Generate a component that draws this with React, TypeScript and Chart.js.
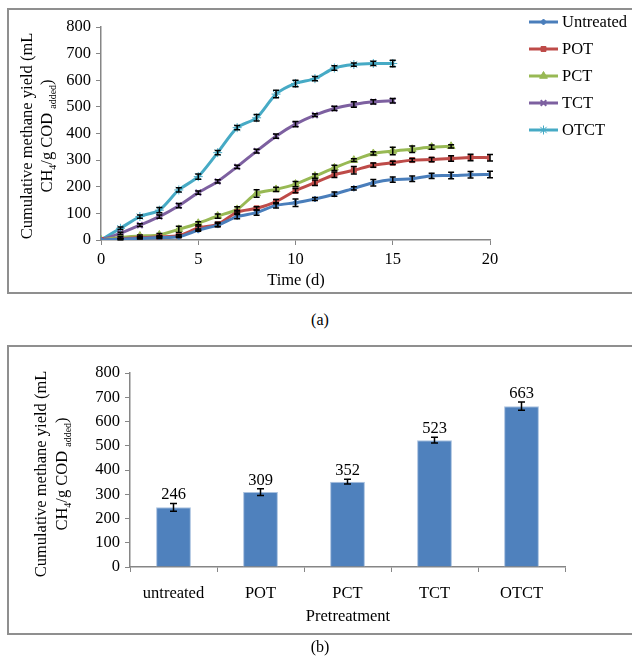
import React, { useEffect, useRef } from "react";
import { Chart, registerables } from "chart.js";
import { drawPoint } from "chart.js/helpers";

Chart.register(...registerables);

const FONT = "'Liberation Serif', 'Times New Roman', serif";
const FS = 16.5;

// ---------- Panel (a): cumulative methane yield over time ----------
const days = [0, 1, 2, 3, 4, 5, 6, 7, 8, 9, 10, 11, 12, 13, 14, 15, 16, 17, 18, 19, 20];

const untreatedValues = [0, 3, 6, 9, 12, 37, 56, 88, 103, 130, 140, 154, 172, 194, 215, 227, 230, 241, 242, 245, 246];
const untreatedErrors = [0, 2, 2, 3, 3, 4, 6, 8, 10, 10, 14, 6, 8, 6, 12, 10, 10, 10, 12, 12, 12];

const potValues = [0, 4, 9, 12, 16, 45, 59, 105, 119, 144, 185, 215, 245, 262, 281, 290, 300, 302, 306, 310, 309];
const potErrors = [0, 2, 3, 4, 4, 8, 8, 6, 6, 8, 8, 10, 10, 14, 8, 6, 6, 8, 10, 12, 12];

const pctValues = [0, 10, 15, 19, 40, 63, 90, 115, 175, 190, 210, 240, 271, 300, 325, 334, 341, 349, 352];
const pctErrors = [0, 3, 4, 5, 12, 6, 8, 10, 14, 8, 10, 8, 10, 5, 6, 14, 12, 8, 6];

const tctValues = [0, 25, 56, 88, 129, 178, 220, 275, 334, 390, 435, 469, 494, 509, 519, 523];
const tctErrors = [0, 4, 5, 6, 8, 6, 6, 6, 7, 8, 10, 5, 8, 10, 8, 8];

const otctValues = [0, 44, 88, 112, 188, 238, 328, 422, 459, 548, 588, 606, 646, 659, 663, 663];
const otctErrors = [0, 5, 6, 10, 8, 10, 8, 8, 12, 14, 12, 8, 8, 6, 8, 12];

const seriesNames = ["Untreated", "POT", "PCT", "TCT", "OTCT"];
const seriesColors = ["#4A7EBB", "#BE4B48", "#98B954", "#7D60A0", "#46AAC5"];
const seriesMarkers = ["rectRot", "rect", "triangle", "crossRot", "star"];
const seriesMarkerRadius = [3, 3.5, 4.5, 4, 4.5];

// ---------- Panel (b): final cumulative yield by pretreatment ----------
const barCategories = ["untreated", "POT", "PCT", "TCT", "OTCT"];
const barValues = [246, 309, 352, 523, 663];
const barErrors = [16, 14, 10, 12, 17];

const AXIS_COLOR = "#868686";

type Seg = { t: string; sub?: boolean };
const yTitleLine1 = "Cumulative methane yield (mL";
const yTitleLine2: Seg[] = [
  { t: "CH" },
  { t: "4", sub: true },
  { t: "/g COD " },
  { t: "added", sub: true },
  { t: ")" },
];

function drawYTitle(ctx: CanvasRenderingContext2D, x1: number, x2: number, cy: number) {
  ctx.save();
  ctx.fillStyle = "#000";
  ctx.textBaseline = "middle";
  // line 1
  ctx.save();
  ctx.translate(x1, cy);
  ctx.rotate(-Math.PI / 2);
  ctx.font = `${FS}px ${FONT}`;
  ctx.textAlign = "center";
  ctx.fillText(yTitleLine1, 0, 0);
  ctx.restore();
  // line 2 with subscripts
  ctx.save();
  ctx.translate(x2, cy);
  ctx.rotate(-Math.PI / 2);
  ctx.textAlign = "left";
  const mainF = `${FS}px ${FONT}`;
  const subF = `10px ${FONT}`;
  let total = 0;
  for (const s of yTitleLine2) {
    ctx.font = s.sub ? subF : mainF;
    total += ctx.measureText(s.t).width;
  }
  let x = -total / 2;
  for (const s of yTitleLine2) {
    ctx.font = s.sub ? subF : mainF;
    ctx.fillText(s.t, x, s.sub ? 5 : 0);
    x += ctx.measureText(s.t).width;
  }
  ctx.restore();
  ctx.restore();
}

function drawText(ctx: CanvasRenderingContext2D, text: string, x: number, y: number) {
  ctx.save();
  ctx.font = `${FS}px ${FONT}`;
  ctx.fillStyle = "#000";
  ctx.textAlign = "center";
  ctx.textBaseline = "middle";
  ctx.fillText(text, x, y);
  ctx.restore();
}

const errorBarPlugin = {
  id: "errorBars",
  afterDatasetsDraw(chart: any) {
    const ctx = chart.ctx;
    const yScale = chart.scales.y;
    chart.data.datasets.forEach((ds: any, di: number) => {
      if (!ds.errors) return;
      const meta = chart.getDatasetMeta(di);
      meta.data.forEach((el: any, i: number) => {
        const raw = ds.data[i];
        const v = typeof raw === "number" ? raw : raw.y;
        const e = ds.errors[i];
        if (!e) return;
        const yt = yScale.getPixelForValue(v + e);
        const yb = yScale.getPixelForValue(v - e);
        const x = el.x;
        const cap = ds.capHalf || 3;
        ctx.save();
        ctx.strokeStyle = "#000";
        ctx.lineWidth = 1.5;
        ctx.beginPath();
        ctx.moveTo(x, yt);
        ctx.lineTo(x, yb);
        ctx.moveTo(x - cap, yt);
        ctx.lineTo(x + cap, yt);
        ctx.moveTo(x - cap, yb);
        ctx.lineTo(x + cap, yb);
        ctx.stroke();
        ctx.restore();
      });
    });
  },
};

const lineDecorPlugin = {
  id: "lineDecor",
  afterDraw(chart: any) {
    const ctx = chart.ctx;
    drawYTitle(ctx, 28, 48, 136);
    drawText(ctx, "Time (d)", 296, 281);
    // legend
    const legendY = [22, 49, 76, 103, 130];
    seriesNames.forEach((name, i) => {
      const y = legendY[i];
      ctx.save();
      ctx.strokeStyle = seriesColors[i];
      ctx.lineWidth = 3;
      ctx.beginPath();
      ctx.moveTo(529, y);
      ctx.lineTo(558, y);
      ctx.stroke();
      ctx.fillStyle = seriesColors[i];
      ctx.strokeStyle = seriesColors[i];
      ctx.lineWidth = i === 3 ? 2 : 1;
      drawPoint(ctx, { pointStyle: seriesMarkers[i], radius: seriesMarkerRadius[i], rotation: 0, borderWidth: ctx.lineWidth }, 543.5, y);
      ctx.font = `${FS}px ${FONT}`;
      ctx.fillStyle = "#000";
      ctx.textAlign = "left";
      ctx.textBaseline = "middle";
      ctx.fillText(name, 562, y + 1);
      ctx.restore();
    });
  },
};

const barDecorPlugin = {
  id: "barDecor",
  afterDraw(chart: any) {
    const ctx = chart.ctx;
    drawYTitle(ctx, 42, 63, 134);
    drawText(ctx, "Pretreatment", 348, 277);
    const meta = chart.getDatasetMeta(0);
    const yScale = chart.scales.y;
    meta.data.forEach((el: any, i: number) => {
      const top = yScale.getPixelForValue(barValues[i] + barErrors[i]);
      ctx.save();
      ctx.font = `${FS}px ${FONT}`;
      ctx.fillStyle = "#000";
      ctx.textAlign = "center";
      ctx.textBaseline = "alphabetic";
      ctx.fillText(String(barValues[i]), el.x, top - 4);
      ctx.restore();
    });
  },
};

function axisCommon(extra: any) {
  return {
    grid: { display: true, drawOnChartArea: false, drawTicks: true, tickLength: 5, color: AXIS_COLOR, lineWidth: 1 },
    border: { display: true, color: AXIS_COLOR, width: 1.5 },
    ticks: { color: "#000", font: { family: FONT, size: FS }, padding: 5 },
    ...extra,
  };
}

function LineChart() {
  const ref = useRef<HTMLCanvasElement>(null);
  useEffect(() => {
    const vals = [untreatedValues, potValues, pctValues, tctValues, otctValues];
    const errs = [untreatedErrors, potErrors, pctErrors, tctErrors, otctErrors];
    const chart = new Chart(ref.current!, {
      type: "line",
      data: {
        datasets: vals.map((v, i) => ({
          label: seriesNames[i],
          data: v.map((y, j) => ({ x: days[j], y })),
          errors: errs[i],
          capHalf: 3,
          borderColor: seriesColors[i],
          backgroundColor: seriesColors[i],
          pointBackgroundColor: seriesColors[i],
          pointBorderColor: seriesColors[i],
          pointStyle: seriesMarkers[i] as any,
          pointRadius: seriesMarkerRadius[i],
          pointBorderWidth: i === 3 ? 2 : 1,
          borderWidth: 3,
          tension: 0.25,
          fill: false,
        })) as any,
      },
      options: {
        responsive: false,
        animation: false,
        layout: { padding: { left: 41, right: 142, top: 27, bottom: 20 } },
        plugins: { legend: { display: false }, tooltip: { enabled: false } },
        scales: {
          x: axisCommon({
            type: "linear",
            min: 0,
            max: 20,
            ticks: { color: "#000", font: { family: FONT, size: FS }, padding: 5, stepSize: 5 },
            afterFit: (s: any) => { s.height = 40; },
          }),
          y: axisCommon({
            min: 0,
            max: 800,
            ticks: { color: "#000", font: { family: FONT, size: FS }, padding: 5, stepSize: 100 },
            afterFit: (s: any) => { s.width = 60; },
          }),
        },
      },
      plugins: [errorBarPlugin, lineDecorPlugin],
    });
    return () => chart.destroy();
  }, []);
  return <canvas ref={ref} width={632} height={300} style={{ position: "absolute", left: 0, top: 0, width: 632, height: 300 }} />;
}

function BarChart() {
  const ref = useRef<HTMLCanvasElement>(null);
  useEffect(() => {
    const chart = new Chart(ref.current!, {
      type: "bar",
      data: {
        labels: barCategories,
        datasets: [
          {
            data: barValues,
            errors: barErrors,
            capHalf: 3.5,
            backgroundColor: "#4F81BD",
            borderColor: "#A9C1DF",
            borderWidth: 1,
            barPercentage: 0.4,
            categoryPercentage: 1,
          } as any,
        ],
      },
      options: {
        responsive: false,
        animation: false,
        layout: { padding: { left: 70, right: 67, top: 33, bottom: 54 } },
        plugins: { legend: { display: false }, tooltip: { enabled: false } },
        scales: {
          x: axisCommon({
            ticks: { color: "#000", font: { family: FONT, size: FS }, padding: 12 },
            afterFit: (s: any) => { s.height = 40; },
          }),
          y: axisCommon({
            min: 0,
            max: 800,
            ticks: { color: "#000", font: { family: FONT, size: FS }, padding: 5, stepSize: 100 },
            afterFit: (s: any) => { s.width = 60; },
          }),
        },
      },
      plugins: [errorBarPlugin, barDecorPlugin],
    });
    return () => chart.destroy();
  }, []);
  return <canvas ref={ref} width={632} height={321} style={{ position: "absolute", left: 0, top: 340, width: 632, height: 321 }} />;
}

export default function App() {
  const boxStyle = (top: number, height: number): React.CSSProperties => ({
    position: "absolute",
    left: 7,
    top,
    width: 640,
    height,
    border: "2px solid #8f8f8f",
    borderRight: "none",
    boxSizing: "border-box",
  });
  const caption: React.CSSProperties = {
    position: "absolute",
    left: 300,
    width: 40,
    textAlign: "center",
    fontFamily: FONT,
    fontSize: 16,
    lineHeight: "20px",
  };
  return (
    <div style={{ position: "absolute", left: 0, top: 0, width: 632, height: 661, overflow: "hidden", background: "#fff" }}>
      <div style={{ ...boxStyle(8, 286), width: 625 }} />
      <div style={{ ...boxStyle(345, 290), width: 625 }} />
      <LineChart />
      <BarChart />
      <div style={{ ...caption, top: 310 }}>(a)</div>
      <div style={{ ...caption, top: 637 }}>(b)</div>
    </div>
  );
}
